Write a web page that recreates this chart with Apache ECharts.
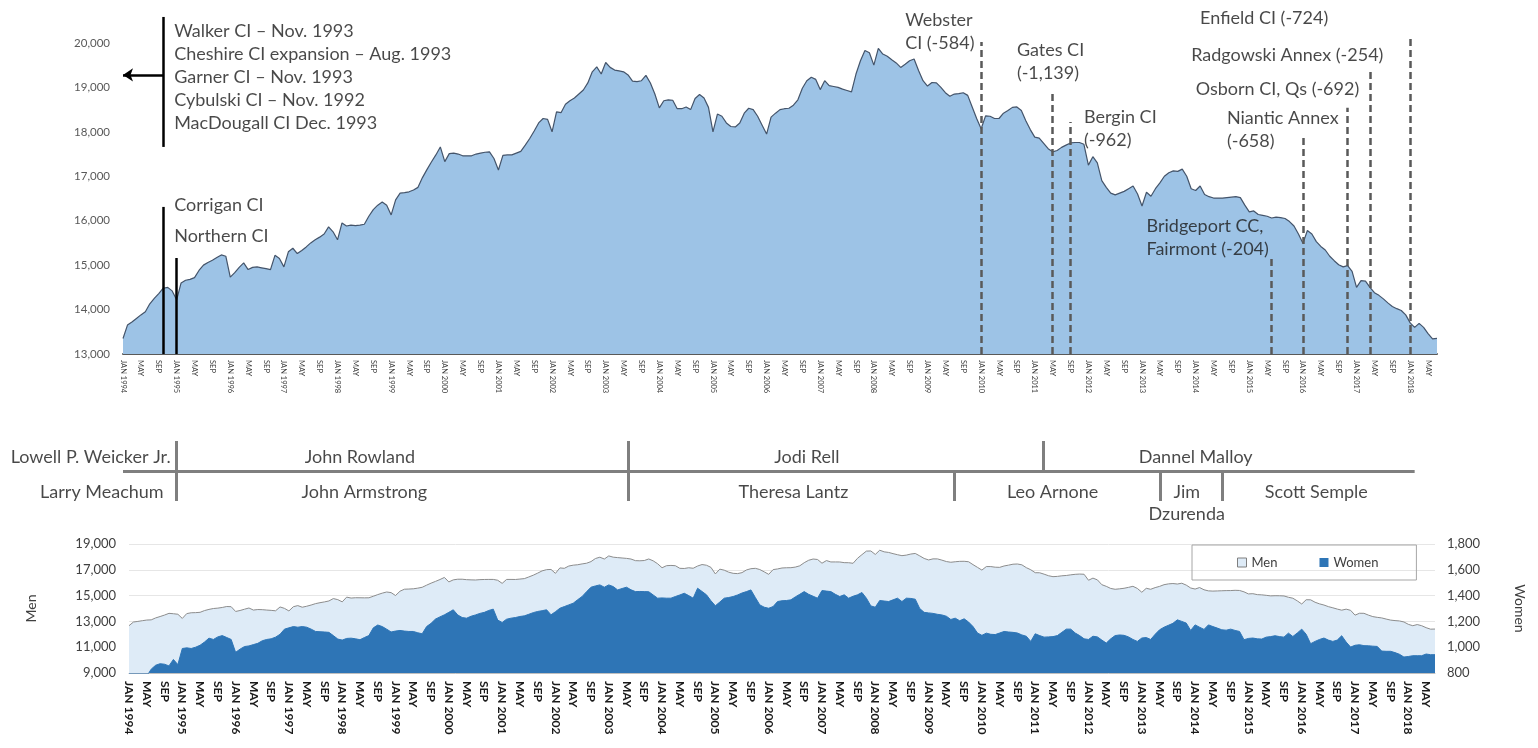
<!DOCTYPE html>
<html><head><meta charset="utf-8">
<script src="https://cdn.jsdelivr.net/npm/echarts@6/dist/echarts.min.js"></script>
<style>html,body{margin:0;padding:0;background:#fff}#c{width:1538px;height:748px}</style>
</head><body><div id="c"></div>
<script>
// ---------- DATA ----------
const startYear = 1994;
const monthNames = ['JAN','FEB','MAR','APR','MAY','JUN','JUL','AUG','SEP','OCT','NOV','DEC'];
const months = [];
for (let i = 0; i < 295; i++) months.push(monthNames[i % 12] + ' ' + (startYear + Math.floor(i / 12)));

// Total inmate population (top chart), monthly Jan 1994 - Jul 2018
const total = [
13350,13650,13720,13800,13880,13950,14130,14250,14360,14480,14500,14420,
14220,14600,14660,14680,14720,14880,15000,15060,15110,15170,15230,15200,
14730,14830,14950,15050,14900,14950,14960,14940,14920,14900,15220,15150,
14960,15300,15380,15260,15330,15410,15500,15570,15630,15700,15860,15750,
15570,15950,15880,15900,15890,15900,15920,16100,16250,16350,16420,16350,
16130,16470,16620,16630,16650,16690,16750,16970,17150,17320,17480,17660,
17330,17510,17520,17500,17460,17460,17460,17500,17520,17540,17550,17400,
17140,17470,17480,17480,17520,17560,17700,17850,18020,18200,18300,18280,
18000,18450,18430,18620,18700,18760,18850,18940,19100,19350,19460,19300,
19560,19450,19390,19370,19350,19280,19140,19130,19150,19270,19100,18850,
18540,18700,18720,18710,18520,18520,18560,18500,18750,18840,18760,18550,
18000,18400,18350,18200,18120,18110,18200,18420,18530,18500,18350,18150,
17950,18330,18420,18500,18520,18530,18600,18720,18980,19150,19230,19180,
18950,19150,19040,19020,19000,18960,18930,18900,19300,19600,19830,19780,
19500,19880,19750,19700,19620,19550,19450,19520,19600,19640,19380,19150,
19030,19110,19100,19000,18880,18800,18850,18860,18880,18820,18560,18300,
18070,18360,18350,18300,18300,18420,18480,18550,18560,18480,18250,18050,
17880,17860,17740,17620,17550,17580,17650,17700,17750,17760,17760,17720,
17250,17440,17300,16900,16750,16620,16580,16620,16660,16720,16780,16600,
16330,16640,16550,16720,16850,17000,17080,17120,17110,17160,17000,16720,
16680,16780,16590,16540,16510,16510,16510,16520,16530,16540,16520,16350,
16200,16220,16140,16120,16100,16060,16080,16070,16050,15980,15880,15700,
15490,15780,15700,15530,15420,15340,15200,15100,15010,14960,14990,14860,
14500,14650,14640,14500,14380,14320,14240,14150,14070,14020,13980,13880,
13700,13600,13690,13600,13460,13340,13350];

const men = [
12670,12950,13000,13055,13105,13120,13270,13378,13492,13625,13595,13555,
13230,13605,13670,13680,13705,13840,13930,14000,14030,14080,14155,14140,
13770,13845,13945,14040,13880,13920,13910,13880,13855,13822,14120,14010,
13810,14140,14225,14100,14175,14270,14378,14450,14512,14585,14770,14687,
14515,14882,14810,14835,14832,14825,14830,14950,15078,15190,15280,15232,
15005,15340,15495,15508,15528,15578,15646,15810,15965,16102,16245,16409,
16060,16220,16270,16270,16235,16220,16210,16238,16250,16255,16255,16190,
15948,16253,16255,16250,16282,16317,16445,16582,16743,16917,17010,17029,
16725,17148,17115,17292,17359,17392,17457,17510,17635,17875,17977,17835,
18077,17980,17946,17915,17885,17835,17709,17698,17719,17840,17695,17470,
17158,17320,17340,17317,17115,17102,17160,17120,17293,17408,17354,17190,
16679,17050,16970,16815,16727,16705,16780,16989,17086,17115,17022,16840,
16648,17015,17066,17140,17158,17163,17210,17310,17549,17740,17835,17800,
17511,17715,17609,17610,17607,17554,17550,17505,17894,18176,18450,18460,
18190,18518,18392,18346,18253,18170,18096,18140,18222,18268,18080,17880,
17764,17848,17845,17750,17640,17585,17625,17655,17660,17625,17400,17190,
16978,17251,17250,17202,17190,17298,17362,17435,17450,17385,17165,17005,
16776,16770,16662,16540,16468,16490,16535,16560,16610,16650,16670,16655,
16190,16355,16220,15845,15718,15555,15490,15525,15568,15640,15720,15555,
15259,15565,15490,15620,15715,15845,15910,15935,15898,15960,15813,15590,
15507,15625,15452,15367,15350,15362,15375,15388,15390,15410,15398,15292,
15132,15149,15075,15057,15022,14978,14991,14988,14972,14871,14797,14590,
14350,14680,14673,14485,14360,14269,14145,14055,13955,13871,13950,13859,
13485,13631,13628,13489,13372,13314,13270,13182,13102,13062,13035,12956,
12772,12666,12756,12666,12513,12398,12408];

const women = [
680,700,720,745,775,830,860,872,868,855,905,865,
990,995,990,1000,1015,1040,1070,1060,1080,1090,1075,1060,
960,985,1005,1010,1020,1030,1050,1060,1065,1078,1100,1140,
1150,1160,1155,1160,1155,1140,1122,1120,1118,1115,1090,1063,
1055,1068,1070,1065,1058,1075,1090,1150,1172,1160,1140,1118,
1125,1130,1125,1122,1122,1112,1104,1160,1185,1218,1235,1251,
1270,1290,1250,1230,1225,1240,1250,1262,1270,1285,1295,1210,
1192,1217,1225,1230,1238,1243,1255,1268,1277,1283,1290,1251,
1275,1302,1315,1328,1341,1368,1393,1430,1465,1475,1483,1465,
1483,1470,1444,1455,1465,1445,1431,1432,1431,1430,1405,1380,
1382,1380,1380,1393,1405,1418,1400,1380,1457,1432,1406,1360,
1321,1350,1380,1385,1393,1405,1420,1431,1444,1385,1328,1310,
1302,1315,1354,1360,1362,1367,1390,1410,1431,1410,1395,1380,
1439,1435,1431,1410,1393,1406,1380,1395,1406,1424,1380,1320,
1310,1362,1358,1354,1367,1380,1354,1380,1378,1372,1300,1270,
1266,1262,1255,1250,1240,1215,1225,1205,1220,1195,1160,1110,
1092,1109,1100,1098,1110,1122,1118,1115,1110,1095,1085,1045,
1104,1090,1078,1080,1082,1090,1115,1140,1140,1110,1090,1065,
1060,1085,1080,1055,1032,1065,1090,1095,1092,1080,1060,1045,
1071,1075,1060,1100,1135,1155,1170,1185,1212,1200,1187,1130,
1173,1155,1138,1173,1160,1148,1135,1132,1140,1130,1122,1058,
1068,1071,1065,1063,1078,1082,1089,1082,1078,1109,1083,1110,
1140,1100,1027,1045,1060,1071,1055,1045,1055,1089,1040,1001,
1015,1019,1012,1011,1008,1006,970,968,968,958,945,924,
928,934,934,934,947,942,942];

// Facility closures (dashed lines) and openings (solid lines)
const closureNames = ['Webster\nCI (-584)','Gates CI\n(-1,139)','Bergin CI\n(-962)','Bridgeport CC,\nFairmont (-204)','Niantic Annex\n(-658)','Osborn CI, Qs (-692)','Radgowski Annex (-254)','Enfield CI (-724)'];
const closureMonths = [192,208,212,257,264,274,279,288];
const openingNames = ['Walker CI – Nov. 1993\nCheshire CI expansion – Aug. 1993\nGarner CI – Nov. 1993\nCybulski CI – Nov. 1992\nMacDougall CI Dec. 1993','Corrigan CI','Northern CI'];
const openingMonths = [9, 9, 12];

// Leadership timeline
const governors = ['Lowell P. Weicker Jr.','John Rowland','Jodi Rell','Dannel Malloy'];
const governorChanges = [12,113,206];
const commissioners = ['Larry Meachum','John Armstrong','Theresa Lantz','Leo Arnone','Jim\nDzurenda','Scott Semple'];
const commissionerChanges = [12,113,186,232,246];

// ---------- LAYOUT (annotation placement) ----------
const closureLineTop = [20020,18940,18220,15160,17860,18540,19390,20180];
const closureLabelAt = [[175,20259],[200,19572],[215,18064],[229,15611],[247,18053],[240,18964],[239,19730],[241,20562]];
const openingLineSpan = [[17660,20585],[13000,16310],[13000,15160]];
const openingLabelAt = [[11,19235],[11,16354],[11,15656]];
const bracketArrowY = 19280;
const govLabelAt = [[12,'left',6],[53,'inside',0],[153,'inside',0],[240,'inside',0]];
const commLabelAt = [[12,'left',13],[54,'inside',0],[150,'inside',0],[208,'inside',0],[238,'inside',0],[267,'inside',0]];

// ---------- CHART ----------
const ff = 'Lato, "Open Sans", sans-serif';
const fmt = v => Math.round(v).toLocaleString('en-US');
const tick = v => v.indexOf('JAN') === 0 ? v : v.slice(0, 3);
const txtColor = '#1a1a1a';

const solid = {type:'solid', color:'#000', width:2.5};
const dashed = {type:[7,4], color:'#595959', width:2.5};

const topLines = [];
closureMonths.forEach((m,i) => topLines.push([{coord:[m,13000], lineStyle:dashed},{coord:[m,closureLineTop[i]]}]));
openingMonths.forEach((m,i) => topLines.push([{coord:[m,openingLineSpan[i][0]], lineStyle:solid},{coord:[m,openingLineSpan[i][1]]}]));
topLines.push([{coord:[openingMonths[0],bracketArrowY], lineStyle:{type:'solid',color:'#000',width:2.5}, symbol:'none'},{coord:[0,bracketArrowY], symbol:'arrow', symbolSize:[10,10]}]);

const topLabels = [];
closureNames.forEach((n,i) => topLabels.push({value:closureLabelAt[i], text:n, label:{position:'right', distance:0}}));
openingNames.forEach((n,i) => topLabels.push({value:openingLabelAt[i], text:n, label:{position:'right', distance:2}}));

const tlGovY = 21, tlCommY = 56, tlLineY = 35, tlTop = 5, tlBottom = 65;
const tlLines = [[{coord:[0,tlLineY]},{coord:[289,tlLineY]}]];
governorChanges.forEach(m => tlLines.push([{coord:[m,tlTop]},{coord:[m,tlLineY]}]));
commissionerChanges.forEach(m => tlLines.push([{coord:[m,tlLineY]},{coord:[m,tlBottom]}]));
const tlLabels = [];
governors.forEach((n,i) => tlLabels.push({value:[govLabelAt[i][0], tlGovY], text:n, label:{position:govLabelAt[i][1], distance:govLabelAt[i][2]}}));
commissioners.forEach((n,i) => {
  const two = n.indexOf('\n') >= 0;
  tlLabels.push({value:[commLabelAt[i][0], two ? tlCommY + 11 : tlCommY], text:n, label:{position:commLabelAt[i][1], distance:commLabelAt[i][2]}});
});

const chart = echarts.init(document.getElementById('c'));
chart.setOption({
  animation: false,
  textStyle: {fontFamily: ff},
  grid: [
    {left:123, right:101, top:7.4, bottom:394},
    {left:129, right:103, top:544, bottom:75},
    {left:123, right:101, top:436, height:84}
  ],
  legend: {
    left:1192, top:545, padding:[11,38,11,45], itemGap:42,
    borderColor:'#a6a6a6', borderWidth:1, icon:'rect', itemWidth:9, itemHeight:9,
    textStyle:{fontSize:13, color:'#404040', fontFamily:ff},
    data:[{name:'Men', itemStyle:{color:'#DEEBF7', borderColor:'#7f7f7f', borderWidth:1}},
          {name:'Women', itemStyle:{color:'#2E75B6'}}]
  },
  xAxis: [
    {gridIndex:0, type:'category', data:months, boundaryGap:false,
     axisLine:{lineStyle:{color:'#595959', width:2}}, axisTick:{show:false},
     axisLabel:{rotate:-90, interval:3, fontSize:7.5, color:'#404040', margin:6, formatter:tick}},
    {gridIndex:1, type:'category', data:months, boundaryGap:false,
     axisLine:{lineStyle:{color:'#bfbfbf', width:1}}, axisTick:{show:false},
     axisLabel:{rotate:-90, interval:3, fontSize:12, fontWeight:'bold', color:'#1a1a1a', margin:8, formatter:tick}},
    {gridIndex:2, type:'category', data:months, boundaryGap:false, show:false}
  ],
  yAxis: [
    {gridIndex:0, type:'value', min:13000, max:20800, interval:1000,
     axisLine:{show:false}, axisTick:{show:false}, splitLine:{show:false},
     axisLabel:{fontSize:11.5, color:'#595959', margin:13, formatter:v => v > 20000 ? '' : fmt(v)}},
    {gridIndex:1, type:'value', min:9000, max:19000, interval:2000, name:'Men', nameLocation:'middle', nameGap:91,
     nameTextStyle:{fontSize:14, color:'#404040'},
     axisLine:{show:false}, axisTick:{show:false}, splitLine:{lineStyle:{color:'#e6e6e6'}},
     axisLabel:{fontSize:13, color:'#404040', margin:13, formatter:fmt}},
    {gridIndex:1, type:'value', position:'right', min:800, max:1800, interval:200, name:'Women', nameLocation:'middle', nameGap:78, nameRotate:-90,
     nameTextStyle:{fontSize:14, color:'#404040'},
     axisLine:{show:false}, axisTick:{show:false}, splitLine:{show:false},
     axisLabel:{fontSize:13, color:'#404040', margin:12, formatter:fmt}},
    {gridIndex:2, type:'value', min:0, max:84, inverse:true, show:false}
  ],
  series: [
    {name:'Total', type:'line', xAxisIndex:0, yAxisIndex:0, data:total, symbol:'none', z:2,
     lineStyle:{color:'#44546A', width:1.2}, areaStyle:{color:'#9DC3E6', opacity:1},
     markLine:{silent:true, symbol:['none','none'], label:{show:false}, data:topLines}},
    {name:'TopNotes', type:'scatter', xAxisIndex:0, yAxisIndex:0, symbolSize:0, silent:true, z:10,
     data:topLabels, label:{show:true, fontSize:18, lineHeight:23, color:txtColor, fontFamily:ff, formatter:p => p.data.text}},
    {name:'Men', type:'line', xAxisIndex:1, yAxisIndex:1, data:men, symbol:'none',
     lineStyle:{color:'#8c8c8c', width:1}, itemStyle:{color:'#DEEBF7'}, areaStyle:{color:'#DEEBF7', opacity:1}},
    {name:'Women', type:'line', xAxisIndex:1, yAxisIndex:2, data:women, symbol:'none',
     lineStyle:{color:'#2E75B6', width:1}, itemStyle:{color:'#2E75B6'}, areaStyle:{color:'#2E75B6', opacity:1}},
    {name:'Timeline', type:'scatter', xAxisIndex:2, yAxisIndex:3, symbolSize:0, silent:true, z:10,
     data:tlLabels, label:{show:true, fontSize:18, lineHeight:22, color:txtColor, fontFamily:ff, formatter:p => p.data.text},
     markLine:{silent:true, symbol:['none','none'], label:{show:false}, lineStyle:{type:'solid', color:'#7f7f7f', width:3}, data:tlLines}}
  ]
});
</script>
</body></html>
